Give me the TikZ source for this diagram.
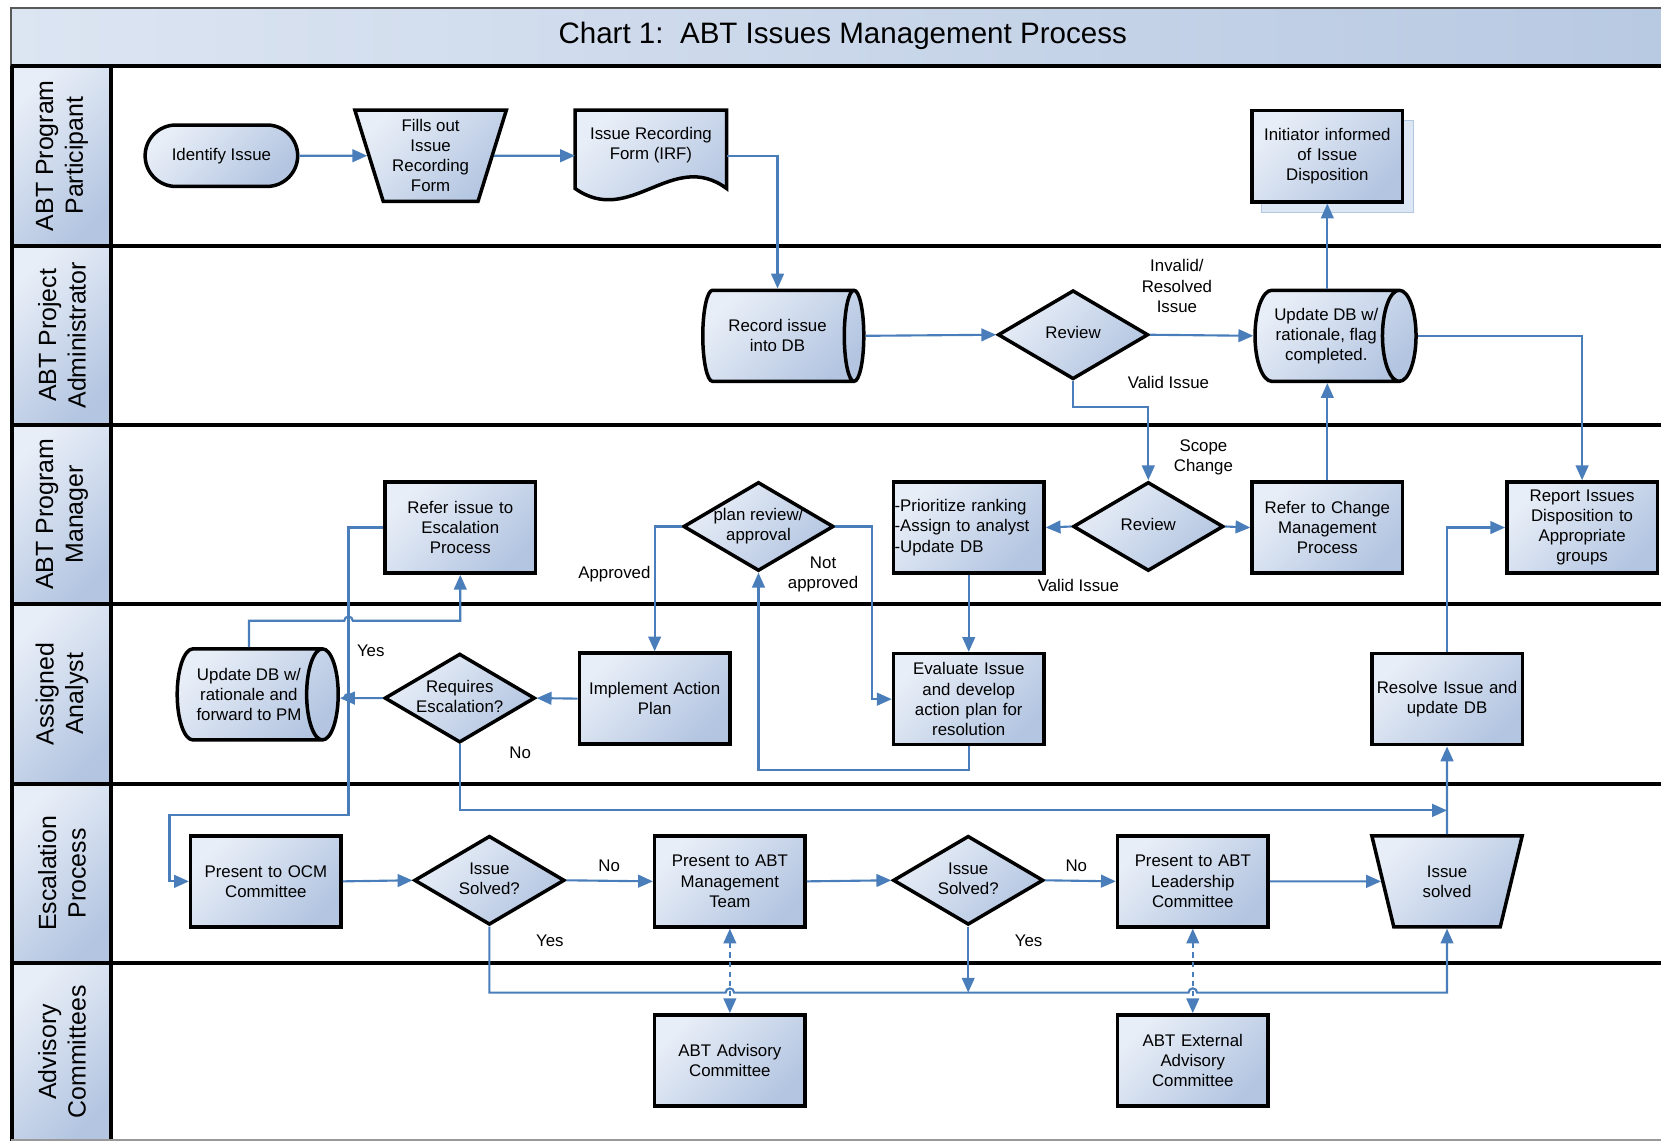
\documentclass[tikz,border=0pt]{standalone}
\usepackage{fontspec}
\setmainfont{Liberation Sans}
\usetikzlibrary{arrows.meta,shapes.geometric}
\definecolor{lineblue}{HTML}{4A7EBB}
\definecolor{fillA}{HTML}{E8EEF7}
\definecolor{fillB}{HTML}{B3C5E1}
\definecolor{titleA}{HTML}{DCE5F2}
\definecolor{titleB}{HTML}{B8C9E2}
\definecolor{shadowblue}{HTML}{DDE6F3}
\newcommand\dtext[1]{\smash{\makebox[0pt]{\raisebox{-4.5pt}{\begin{tabular}{@{}c@{}}#1\end{tabular}}}}}
\begin{document}
\begin{tikzpicture}[x=1pt,y=-1pt,
  every node/.style={font=\fontsize{15.9pt}{19pt}\selectfont},
  shd/.style={top color=fillA, bottom color=fillB, shading angle=45},
  frame/.style={draw=black, line width=3.3pt, shd},
  proc/.style={rectangle, frame, minimum width=142pt, minimum height=86pt, text width=138pt, align=center, inner sep=1pt},
  term/.style={rectangle, rounded corners=29pt, frame, minimum width=144pt, minimum height=58pt, align=center},
  trap/.style={trapezium, shape border rotate=180, trapezium left angle=72.5, trapezium right angle=72.5, trapezium stretches=true, frame, minimum width=143pt, minimum height=86pt, inner sep=0pt, align=center},
  dia/.style={diamond, frame, minimum width=142pt, minimum height=84pt, inner sep=0pt},
  cyl/.style={cylinder, shape border rotate=0, aspect=0.6, frame, minimum height=152pt, minimum width=86pt, inner sep=0pt, align=center},
  conn/.style={draw=lineblue, line width=2pt},
  arr/.style={conn, -{Triangle[length=14pt,width=12pt]}},
  biarr/.style={conn, dashed, dash pattern=on 5pt off 4pt, {Triangle[length=14pt,width=12pt]}-{Triangle[length=14pt,width=12pt]}},
  lbl/.style={align=center, inner sep=0pt},
  lanelbl/.style={rotate=90, align=center, font=\fontsize{23.5pt}{28pt}\selectfont}
]
\useasboundingbox (0,0) rectangle (1568,1077);
% title bar
\shade[left color=titleA, right color=titleB] (10,7) rectangle (1568,62);
\draw[draw=black!65, line width=1.2pt] (1568,7.5) -- (10.5,7.5) -- (10.5,62);
\node (title) at (795.5,34) {\fontsize{27.9pt}{32pt}\selectfont Chart 1:\ \ ABT Issues Management Process};
% lane headers
\foreach \t/\b/\n/\txt in {62/232/lnA/{ABT Program\\Participant}, 232/401/lnB/{ABT Project\\Administrator}, 401/570/lnC/{ABT Program\\Manager}, 570/740/lnD/{Assigned\\Analyst}, 740/909/lnE/{Escalation\\Process}, 909/1077/lnF/{Advisory\\Committees}} {
  \shade[shd] (12,\t) rectangle (105,\b);
  \node[lanelbl] (\n) at (58.5,{(\t+\b)/2}) {\txt};
}
\foreach \y in {62,232,401,570,740,909} \draw[line width=3.5pt] (10,\y) -- (1568,\y);
\draw[line width=3.5pt] (11.5,62) -- (11.5,1077);
\draw[line width=3.5pt] (105,62) -- (105,1077);
\draw[black!40, line width=1.5pt] (10,1076) -- (1568,1076);

% lane 1
\node[term] (idi) at (209,147) {Identify Issue};
\node[trap] (fill) at (406.5,147) {Fills out\\Issue\\Recording\\Form};
\path[frame] (543,104) -- (686,104) -- (686,178) .. controls (635,140) and (595,215) .. (543,178) -- cycle;
\node[align=center, minimum width=143pt, minimum height=86pt, inner sep=0pt, text depth=24pt] (irf) at (614.5,147) {Issue Recording\\Form (IRF)};
\fill[shadowblue, draw=shadowblue!70!lineblue, line width=0.6pt] (1191,114) rectangle (1334,200);
\node[proc] (init) at (1253,147.5) {Initiator informed\\of Issue\\Disposition};
% lane 2
\node[cyl] (rec) at (734,317) {Record issue\\into DB};
\node[dia] (rev1) at (1013,316) {\dtext{Review}};
\node[cyl] (upd1) at (1252,317) {Update DB w/\\rationale, flag\\completed.};
% lane 3
\node[proc] (ref) at (434.5,498) {Refer issue to\\Escalation\\Process};
\node[dia] (plan) at (716,497) {\dtext{plan review/\\approval}};
\node[proc, align=left, text width=140pt, inner sep=1pt] (pri) at (914.5,498) {-Prioritize ranking\\-Assign to analyst\\-Update DB};
\node[dia] (rev2) at (1084,497) {\dtext{Review}};
\node[proc] (chg) at (1253,498) {Refer to Change\\Management\\Process};
\node[proc] (rep) at (1493.5,498) {Report Issues\\Disposition to\\Appropriate\\groups};
% lane 4
\node[cyl] (upd2) at (235,655.5) {Update DB w/\\rationale and\\forward to PM};
\node[dia] (req) at (434,659) {\dtext{Requires\\Escalation?}};
\node[proc] (imp) at (618,659.5) {Implement Action\\Plan};
\node[proc] (eva) at (914.5,660) {Evaluate Issue\\and develop\\action plan for\\resolution};
\node[proc] (res) at (1366,660) {Resolve Issue and\\update DB};
% lane 5
\node[proc] (ocm) at (251,832) {Present to OCM\\Committee};
\node[dia] (is1) at (462,831) {\dtext{Issue\\Solved?}};
\node[proc] (mgmt) at (689,832) {Present to ABT\\Management\\Team};
\node[dia] (is2) at (914,831) {\dtext{Issue\\Solved?}};
\node[proc] (lead) at (1126,832) {Present to ABT\\Leadership\\Committee};
\node[trap] (sol) at (1366,832) {Issue\\solved};
% lane 6
\node[proc] (adv) at (689,1001) {ABT Advisory\\Committee};
\node[proc] (ext) at (1126,1001) {ABT External\\Advisory\\Committee};

% labels
\node[lbl] (tInv) at (1111,270) {Invalid/\\Resolved\\Issue};
\node[lbl] (tVal1) at (1103,361) {Valid Issue};
\node[lbl] (tScope) at (1136,432) {Scope\\Change};
\node[lbl] (tVal2) at (1018,553) {Valid Issue};
\node[lbl] (tAppr) at (580,542) {Approved};
\node[lbl] (tNot) at (777,542) {Not\\approved};
\node[lbl] (tYes1) at (350,614) {Yes};
\node[lbl] (tNo1) at (491,711) {No};
\node[lbl] (tNo2) at (575,817) {No};
\node[lbl] (tYes2) at (519,888) {Yes};
\node[lbl] (tNo3) at (1016,817) {No};
\node[lbl] (tYes3) at (971,888) {Yes};

% connectors
\draw[arr] (idi.east) -- (fill.west);
\draw[arr] (fill.east) -- (irf.west);
\draw[arr] (irf.east) -| (rec.north);
\draw[arr] (rec.east) -- (rev1.west);
\draw[arr] (rev1.east) -- (upd1.west);
\coordinate (bendF) at (1013,384);
\draw[arr] (rev1.south) -- (bendF) -| (rev2.north);
\draw[arr] (init.south |- upd1.north) -- (init.south);
\draw[arr] (upd1.east) -| (rep.north);
\draw[arr] (rev2.west) -- (pri.east);
\draw[arr] (rev2.east) -- (chg.west);
\draw[arr] (chg.north) -- (chg.north |- upd1.south);
\draw[arr] (pri.south) -- (eva.north);
\coordinate (bendM) at (716,727);
\draw[arr] (eva.south) |- (bendM) -- (plan.south);
\draw[arr] (plan.west) -| (imp.north);
\coordinate (bendO) at (823,497);
\draw[arr] (plan.east) -- (bendO) |- (eva.west);
\draw[arr] (imp.west) -- (req.east);
\coordinate (hopC) at (329,659);
\draw[arr] (req.west) -- ([xshift=4pt]hopC) arc[start angle=0,end angle=180,radius=4pt] -- (upd2.east |- hopC);
\coordinate (hopB) at (329,586);
\draw[arr] (upd2.north) |- ([xshift=-4pt]hopB) arc[start angle=180,end angle=0,radius=4pt] -| (ref.south);
\coordinate (bendS) at (160,769);
\draw[arr] (ref.west) -| (hopB |- bendS) -- (bendS) |- (ocm.west);
\coordinate (meetA) at (1366,765);
\draw[arr] (req.south) |- (meetA);
\draw[arr] (sol.north) -- (res.south);
\draw[arr] (res.north) |- (rep.west);
\draw[arr] (ocm.east) -- (is1.west);
\draw[arr] (is1.east) -- (mgmt.west);
\draw[arr] (mgmt.east) -- (is2.west);
\draw[arr] (is2.east) -- (lead.west);
\draw[arr] (lead.east) -- (sol.west);
\coordinate (hopD) at (689,937);
\coordinate (hopE) at (1126,937);
\draw[arr] (is1.south) |- ([xshift=-4pt]hopD) arc[start angle=180,end angle=0,radius=4pt] -- ([xshift=-4pt]hopE) arc[start angle=180,end angle=0,radius=4pt] -| (sol.south);
\draw[arr] (is2.south) -- (is2.south |- hopD);
\draw[biarr] (mgmt.south) -- (adv.north);
\draw[biarr] (lead.south) -- (ext.north);
\end{tikzpicture}
\end{document}
